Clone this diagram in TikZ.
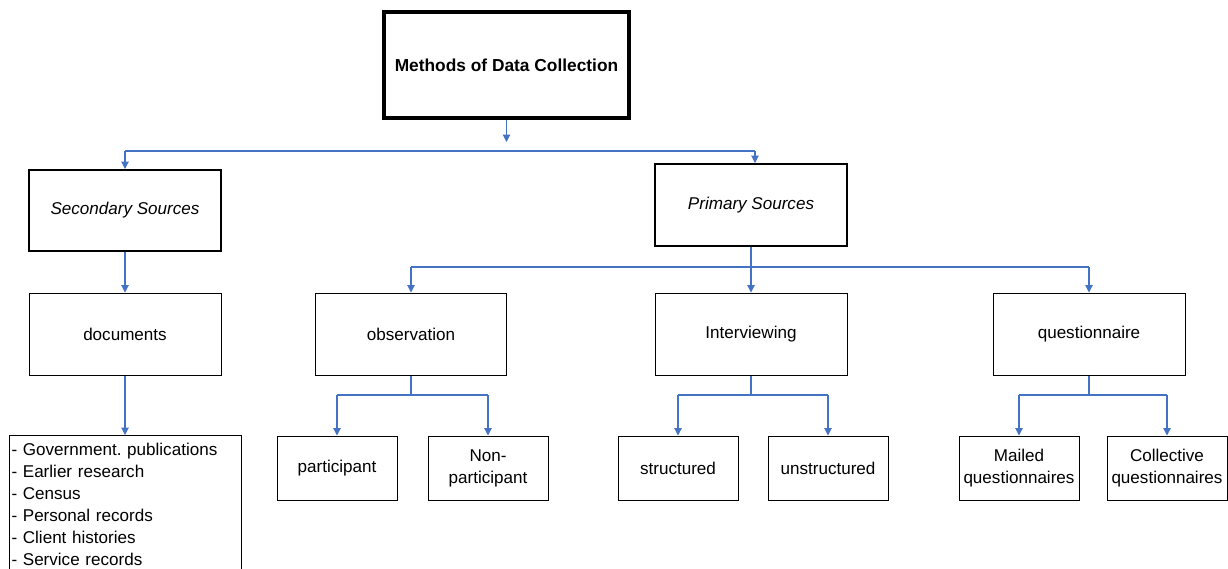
\documentclass[tikz,border=0pt]{standalone}
\usepackage{fontspec}
\setmainfont{Liberation Sans}
\usetikzlibrary{arrows.meta}
\definecolor{linkblue}{HTML}{4472C4}
\frenchspacing
\tikzset{
  sz/.style 2 args={minimum width=#1*0.75pt, minimum height=#2*0.75pt},
  box/.style={draw=black, line width=0.75pt, inner sep=0pt, align=center, font=\fontsize{12.8}{16.5}\selectfont},
  midbox/.style={box, line width=1.5pt},
  topbox/.style={box, line width=2.4pt, font=\fontsize{13}{15}\selectfont\bfseries},
  lnk/.style={draw=linkblue, line width=0.8pt},
  arr/.style={lnk, -{Triangle[width=5.5pt,length=5.5pt]}},
}
\begin{document}
\begin{tikzpicture}[x=0.75pt,y=-0.75pt]
\useasboundingbox (0,0) rectangle (1228,568);
\clip (0,0) rectangle (1228,568);
% nodes
\node[topbox, sz={245}{106}] (top) at (506.5,65) {Methods of Data Collection};
\node[midbox, sz={192}{81}] (sec) at (125,210.5) {\itshape Secondary Sources};
\node[midbox, sz={192}{82}] (prim) at (751,205) {\itshape Primary Sources};
\node[box, sz={192}{82}] (doc) at (125,334) {documents};
\node[box, sz={191}{82}] (obs) at (411,334) {observation};
\node[box, sz={192}{82}] (int) at (751,334) {Interviewing};
\node[box, sz={192}{82}] (que) at (1089,334) {questionnaire};
\node[box, anchor=north west, align=left, text width=228*0.75pt, inner xsep=1.5pt, inner ysep=5.5pt] (list) at (9,435)
  {- Government. publications\\- Earlier research\\- Census\\- Personal records\\- Client histories\\- Service records\\[14pt]};
\node[box, sz={120}{64}] (part) at (337,468) {participant};
\node[box, sz={120}{64}] (nonp) at (488,468) {Non-\\participant};
\node[box, sz={120}{64}] (str) at (678,468) {structured};
\node[box, sz={120}{64}] (unstr) at (828,468) {unstructured};
\node[box, sz={120}{64}] (mail) at (1019,468) {Mailed\\questionnaires};
\node[box, sz={120}{64}] (coll) at (1167,468) {Collective\\questionnaires};
% junction coordinates
\coordinate (j1) at (506.5,142);
\coordinate (h1) at (125,151);
\coordinate (h2) at (755,151);
\coordinate (b2) at (751,267);
\coordinate (b3) at (0,395);
% connectors
\draw[arr] (top.south) -- (j1);
\draw[lnk] (h1) -- (h2);
\draw[arr] (h1) -- (sec.north);
\draw[arr] (h2) -- (h2 |- prim.north);
\draw[arr] (sec.south) -- (doc.north);
\draw[arr] (doc.south) -- (list.north -| doc.south);
\draw[lnk] (prim.south) -- (b2);
\draw[lnk] (obs.north |- b2) -- (que.north |- b2);
\draw[arr] (obs.north |- b2) -- (obs.north);
\draw[arr] (b2) -- (int.north);
\draw[arr] (que.north |- b2) -- (que.north);
\draw[lnk] (obs.south) -- (obs.south |- b3);
\draw[lnk] (part.north |- b3) -- (nonp.north |- b3);
\draw[arr] (part.north |- b3) -- (part.north);
\draw[arr] (nonp.north |- b3) -- (nonp.north);
\draw[lnk] (int.south) -- (int.south |- b3);
\draw[lnk] (str.north |- b3) -- (unstr.north |- b3);
\draw[arr] (str.north |- b3) -- (str.north);
\draw[arr] (unstr.north |- b3) -- (unstr.north);
\draw[lnk] (que.south) -- (que.south |- b3);
\draw[lnk] (mail.north |- b3) -- (coll.north |- b3);
\draw[arr] (mail.north |- b3) -- (mail.north);
\draw[arr] (coll.north |- b3) -- (coll.north);
\end{tikzpicture}
\end{document}
